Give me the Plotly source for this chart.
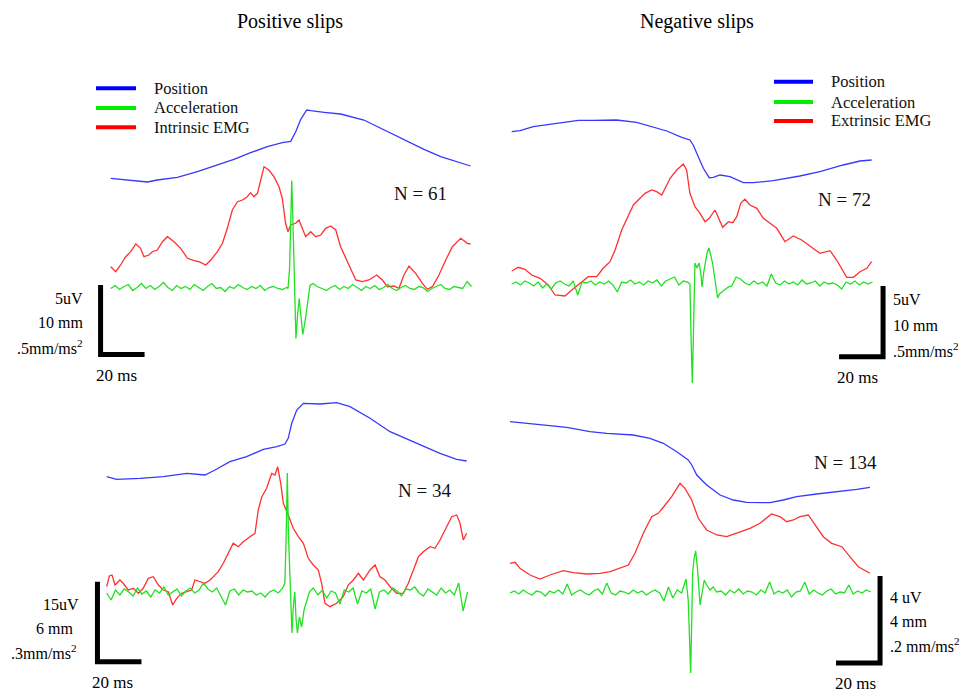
import numpy as np
import plotly.graph_objects as go

W, H = 963, 692
DT_ACC = 2.0          # ms between accelerometer samples away from the slip transient
BAR_MS = 20.0         # horizontal scale bar, ms

# ---------------- Positive slips, intrinsic EMG (N = 61) ----------------
p1_pos_t = [0, 9.1, 16.7, 21.2, 30.3, 39.4, 48.5, 56.0, 63.6, 71.2, 78.0, 81.8, 84.1, 86.4, 89.1,
            90.9, 97.0, 104.5, 115.1, 124.2, 134.9, 142.4, 150.0, 157.6, 163.6]
p1_pos = [0, -2.4, -3.7, -1.7, 1.0, 6.6, 13.3, 19.0, 25.6, 31.6, 35.6, 37.0, 46.6, 59.0, 68.3,
          67.6, 66.0, 64.3, 58.3, 48.3, 36.6, 29.0, 21.6, 16.6, 12.3]
p1_emg_t = [0, 2.3, 4.5, 6.8, 9.1, 11.4, 13.6, 15.1, 17.4, 18.9, 21.2, 23.5, 25.8, 28.8, 31.8,
            34.9, 37.9, 40.1, 43.2, 45.5, 48.5, 50.8, 53.0, 55.3, 57.6, 59.9, 62.1, 63.6, 65.1,
            66.7, 68.2, 69.7, 71.9, 74.2, 76.5, 78.0, 79.5, 80.6, 81.8, 84.1, 85.6, 87.1, 88.6,
            90.9, 93.2, 95.5, 97.7, 100.0, 102.3, 104.5, 106.8, 109.1, 111.4, 114.4, 117.4,
            120.9, 123.5, 125.8, 128.8, 131.0, 133.3, 135.6, 138.6, 141.7, 143.9, 146.2, 149.2,
            152.3, 155.3, 159.1, 162.1, 163.6]
p1_emg = [0, -5, 1.7, 10, 15, 22.7, 18.4, 10, 11.7, 15, 16.7, 25, 30, 25, 18.4, 8.4, 6, 5, 1.7,
          6.7, 15, 23.4, 38.4, 56.7, 65, 66.7, 70, 74, 70, 73.4, 86.7, 100, 96.7, 90, 80, 68.4,
          43.4, 35, 41.7, 43.4, 46.7, 38.4, 30, 35, 30, 31.7, 38.4, 40.7, 36.7, 20, 8.4, -3.3,
          -13.3, -15, -13.3, -8.3, -13.3, -20, -19.3, -21.6, -8.3, 0.7, -6.6, -16.6, -22.6, -20,
          -8.3, 6.7, 20, 28.4, 23.4, 22.7]
p1_acc_pre = [0, 3, -1, 2, 4, -2, 1, 5, 0, 3, -1, 2, 6, 1, -2, 3, 0, 2, -1, 4, 1, -2, 2, 5, 0,
              1, -3, 2, 0, 4, 1, -1, 2, 0, 3, -2, 1, 2, 0, -1, 1]
p1_acc_spk_t = [80.6, 81.3, 81.8, 82.3, 82.8, 83.3, 84.2, 85.0, 85.7, 86.5, 87.3, 88.2, 89.1,
                90.6, 92.0, 93.8]
p1_acc_spk = [0, 20, 80, 108, 70, 15, -50, -25, -10, -28, -46, -35, -20, 3, 5, 2]
p1_acc_post_t0 = 96.0
p1_acc_post = [0, -2, 1, 3, -1, 2, 0, 4, 1, -2, 2, 0, 3, -1, 1, 4, 0, -2, 1, 3, 0, -1, 2, 1,
               -3, 0, 2, 4, 0, -1, 2, 1, 0, 7, 2]

# ---------------- Negative slips, extrinsic EMG (N = 72) ----------------
p2_pos_t = [0, 3.8, 9.8, 18.9, 25.0, 30.3, 37.1, 47.7, 56.8, 64.4, 70.5, 77.3, 81.0, 82.5, 84.8,
            87.1, 89.8, 91.6, 94.7, 99.2, 105.3, 109.8, 118.9, 131.0, 140.1, 150.7, 158.3, 163.6]
p2_pos = [0, 1, 5, 7.7, 9.4, 11.4, 11.4, 11.7, 9.4, 5, 0.7, -5.6, -8.3, -13.3, -25, -36.6, -46,
          -45.6, -43.3, -45, -51, -51, -49, -44.3, -40, -33.3, -29.3, -28.3]
p2_emg_t = [0, 3.0, 6.0, 9.1, 12.9, 16.6, 19.7, 24.2, 27.3, 31.0, 34.8, 38.6, 41.6, 44.7, 47.0,
            50.0, 53.0, 55.3, 58.3, 60.6, 63.6, 65.9, 68.2, 69.7, 72.0, 75.0, 78.0, 79.5, 81.0,
            83.3, 85.6, 87.9, 89.8, 92.4, 93.9, 95.9, 98.5, 100.5, 102.3, 104.1, 106.0, 108.3,
            111.4, 114.4, 117.4, 120.5, 124.2, 128.0, 131.8, 135.6, 140.1, 144.7, 147.7, 152.3,
            155.3, 158.3, 161.4, 163.6]
p2_emg = [0, 3.7, 1.7, -4, -7.3, -14, -24, -25, -19, -12.3, -5.7, -5.7, 2.7, 9.3, 21, 41, 54.3,
          66, 72.7, 77.7, 81, 79.3, 76, 82.7, 92.7, 101, 107, 101, 77.7, 64.3, 57.7, 49.3, 52.7,
          61, 54.3, 43.7, 49.3, 48.3, 54.3, 67.7, 71.7, 66, 62.7, 52.7, 47.7, 42.7, 29.3, 35, 31,
          25, 17.7, 20.3, 11, -6.3, -6.3, -0.7, 2.7, 9.3]
p2_acc_pre = [0, 2, -1, 3, 1, -2, 2, -4, 0, -5, 1, 3, 0, -2, 3, -11, 2, 1, 3, -1, 2, 0, 3, -1,
              -8, 2, 1, 4, 0, 2, -1, 3, 1, 4, -2, 3, 5, 7, -1, 3, 2]
p2_acc_spk_t = [81.0, 81.6, 82.1, 82.6, 83.3, 84.2, 85.2, 86.0, 86.5, 87.3, 88.0, 88.9, 89.7,
                90.5, 91.3, 92.4, 93.6, 94.4, 95.4, 96.9, 98.4]
p2_acc_spk = [0, -60, -99, -50, 21, 16, 21, 10, -3, 12, 20, 32, 36, 28, 21, 4, -14, -10, -8, -5,
              -3]
p2_acc_post_t0 = 100.0
p2_acc_post = [-2, 7, 5, 1, -1, 3, 0, 2, -2, 10, 1, -1, 3, 0, 2, -1, 4, 0, 1, 3, -2, 2, 0, 1,
               -1, -5, 2, 0, 3, -1, 2, 0, 2]

# ---------------- Positive slips, lower row (N = 34) ----------------
p3_pos_t = [0, 4.5, 15.1, 25.7, 36.4, 44.7, 49.2, 56.0, 63.6, 71.2, 77.3, 81.0, 82.5, 84.1, 86.4,
            89.4, 97.0, 104.5, 110.6, 119.7, 128.8, 139.4, 151.5, 159.1, 163.6]
p3_pos = [0, -2.6, -1.6, 0, 3.4, 1.7, 6.7, 15, 20, 27.4, 30, 32.7, 38.4, 53.4, 66.7, 73.4, 72.7,
          74, 70, 58.4, 45, 35, 23.4, 17.4, 15.7]
p3_emg_t = [0, 1.2, 2.4, 3.8, 6.0, 7.5, 9.8, 12.1, 14.4, 16.6, 18.9, 21.2, 23.5, 25.7, 28.0,
            30.0, 31.8, 34.1, 36.4, 38.6, 40.1, 42.4, 44.7, 47.0, 49.2, 50.7, 53.0, 55.3, 57.5,
            59.8, 62.1, 65.1, 67.4, 68.9, 70.5, 72.7, 75.0, 76.5, 77.7, 79.1, 80.3, 82.5, 84.8,
            87.1, 89.4, 91.6, 93.9, 96.2, 97.7, 99.2, 101.5, 104.5, 107.5, 109.8, 112.1, 114.4,
            116.7, 119.7, 122.0, 124.2, 126.5, 128.8, 131.8, 134.8, 137.1, 139.4, 141.7, 143.9,
            147.0, 149.2, 151.5, 153.8, 156.8, 159.1, 160.6, 162.1, 163.6]
p3_emg = [0, 10.7, 11.7, 1.7, 6.7, 3.4, -3.3, -1.6, -6.6, -1.6, 8.4, 10, 1.7, -3.3, -5, -18.3,
          -11.6, -6.6, -5, -3.3, 6.7, 5, 3.4, 6.7, 11.7, 15, 23.4, 33.4, 43.4, 40, 45, 50, 53.4,
          76.7, 90, 98.4, 113.4, 111.7, 120, 103.4, 83.4, 71.7, 58.4, 50, 43.4, 28.4, 21.7, 16.7,
          3.4, -16.6, -20, -16.6, -10, 1.7, 6.7, 13.4, 6.7, 16.7, 21.7, 10, 6.7, 0, -6.6, -6.6,
          3.4, 16.7, 30, 35, 40, 38.4, 46.7, 56.7, 70, 71.7, 63.4, 46.7, 53.4]
p3_acc_pre = [0, -7, 3, -2, 4, 1, -3, 5, -1, 2, -4, 3, 0, 6, -2, 1, 4, -3, 2, 5, 0, 3, 10, 4, 1,
              5, -3, -12, 2, 4, -2, 3, 1, 2, -2, 0, -4, 1, 3, 0, 5]
p3_acc_spk_t = [81.0, 81.6, 82.1, 82.6, 83.0, 83.5, 83.8, 84.2, 84.8, 85.5, 86.1, 86.7, 87.6,
                88.6, 89.7, 90.9, 92.1, 93.9]
p3_acc_spk = [10, 60, 120, 60, 33, 0, -30, -40, -14, 1, -27, -40, -24, -34, -17, -7, 1, 5]
p3_acc_post_t0 = 96.0
p3_acc_post = [-2, 3, -5, 2, 0, -11, 3, 1, 5, -11, 2, 0, 4, -16, 1, 3, -1, 5, 2, -3, 4, 3, 6, 0,
               -3, 4, 1, -2, 5, 0, 3, -2, 10, -18, 1]

# ---------------- Negative slips, lower row (N = 134) ----------------
p4_pos_t = [0, 10.6, 25.8, 36.4, 44.0, 56.0, 63.6, 69.7, 75.8, 81.0, 82.6, 84.9, 89.4, 95.5,
            101.5, 107.6, 118.2, 124.2, 130.3, 139.4, 150.0, 157.6, 163.6]
p4_pos = [0, -2.3, -5.6, -10, -11.6, -13.3, -16.6, -21.6, -30, -38.3, -43.3, -53.3, -63.3, -73.3,
          -78.3, -80.6, -81, -78.3, -75, -72.3, -70, -67.6, -65.6]
p4_emg_t = [0, 2.3, 4.5, 9.1, 13.6, 18.2, 24.2, 28.8, 34.9, 40.9, 45.5, 50.0, 53.8, 56.8, 60.6,
            64.4, 67.4, 70.5, 73.5, 77.3, 79.5, 82.6, 85.6, 89.4, 94.0, 98.5, 103.0, 109.1,
            113.6, 118.9, 122.7, 125.8, 128.8, 131.8, 135.6, 138.6, 142.4, 146.2, 150.8, 154.5,
            158.3, 163.6]
p4_emg = [0, 1, -5, -11.7, -15.7, -11.7, -7.4, -9.4, -10.7, -10, -8.4, -5, -1.7, 10, 30, 46.6,
          50, 58.3, 66.6, 80, 75, 63.3, 45, 33.3, 28.3, 26.6, 30, 35, 40, 49.3, 46.6, 41.6, 43.3,
          46.6, 48.3, 38.3, 26.6, 20, 16.6, 6.6, -3.4, -10]
p4_acc_pre = [0, 2, -1, 3, 0, -2, 2, 1, -3, 2, 0, 3, -1, 9, -2, 1, 3, 0, -2, 2, 4, -1, 10, 0,
              -2, 2, 1, -1, 3, 0, 2, -2, 1, 3, 0, -8, 6, -5, 3, 0, 14]
p4_acc_spk_t = [81.0, 81.6, 82.1, 82.6, 83.0, 83.7, 84.4, 85.2, 86.4, 87.3, 88.3, 89.4, 90.9,
                92.4, 93.9]
p4_acc_spk = [-7, -45, -80, -30, 20, 35, 42, 25, -12, 0, 13, 8, 3, 6, 1]
p4_acc_post_t0 = 96.0
p4_acc_post = [2, -2, 3, 0, 4, -1, 2, 1, -2, 3, 0, 11, -1, 2, 0, 3, -4, 1, 2, 11, -1, 3, 0, -2,
               2, 4, -1, 1, 0, 8, -1, 2, 0, 3, 1]

# Text
titles = ["Positive slips", "Negative slips"]
legend_left = ["Position", "Acceleration", "Intrinsic EMG"]
legend_right = ["Position", "Acceleration", "Extrinsic EMG"]
n_labels = ["N = 61", "N = 72", "N = 34", "N = 134"]
bar_labels = [["5uV", "10 mm", ".5mm/ms<sup>2</sup>"],
              ["5uV", "10 mm", ".5mm/ms<sup>2</sup>"],
              ["15uV", "6 mm", ".3mm/ms<sup>2</sup>"],
              ["4 uV", "4 mm", ".2 mm/ms<sup>2</sup>"]]
time_label = "20 ms"


def acc_series(pre, spk_t, spk, post_t0, post):
    t = list(np.arange(len(pre)) * DT_ACC) + list(spk_t) + list(post_t0 + np.arange(len(post)) * DT_ACC)
    return t, list(pre) + list(spk) + list(post)


# ---- layout geometry (pixels) ----
PX_PER_MS = 2.2
FONT = "Liberation Serif"
C_POS, C_ACC, C_EMG = "#3838ff", "#22e022", "#ff3030"
L_POS, L_ACC, L_EMG = "#0000ff", "#00ee00", "#ff0000"

panels = [
    dict(pos_t=p1_pos_t, pos=p1_pos, emg_t=p1_emg_t, emg=p1_emg,
         acc=acc_series(p1_acc_pre, p1_acc_spk_t, p1_acc_spk, p1_acc_post_t0, p1_acc_post),
         x0=110.7, base=288.5, box=(30, 485, 60, 388), pos_off=110.2, emg_off=21.8,
         bar_t=-4.6, bar_top=3.5, bar_len=69.5, side="left",
         labels=[(85, 298), (85, 322), (85, 347)], tl=(116, 375), n=(391.7, 193)),
    dict(pos_t=p2_pos_t, pos=p2_pos, emg_t=p2_emg_t, emg=p2_emg,
         acc=acc_series(p2_acc_pre, p2_acc_spk_t, p2_acc_spk, p2_acc_post_t0, p2_acc_post),
         x0=511.7, base=284.0, box=(490, 962, 60, 390), pos_off=152.3, emg_off=13.0,
         bar_t=168.8, bar_top=-2.0, bar_len=70.7, side="right",
         labels=[(891, 300), (891, 325), (891, 350)], tl=(857, 377), n=(816, 200)),
    dict(pos_t=p3_pos_t, pos=p3_pos, emg_t=p3_emg_t, emg=p3_emg,
         acc=acc_series(p3_acc_pre, p3_acc_spk_t, p3_acc_spk, p3_acc_post_t0, p3_acc_post),
         x0=106.7, base=593.0, box=(30, 485, 390, 692), pos_off=116.3, emg_off=6.3,
         bar_t=-4.2, bar_top=11.3, bar_len=80.0, side="left",
         labels=[(81, 604), (75, 628), (79, 652)], tl=(112, 682), n=(396, 490)),
    dict(pos_t=p4_pos_t, pos=p4_pos, emg_t=p4_emg_t, emg=p4_emg,
         acc=acc_series(p4_acc_pre, p4_acc_spk_t, p4_acc_spk, p4_acc_post_t0, p4_acc_post),
         x0=510.0, base=593.0, box=(490, 962, 390, 692), pos_off=171.3, emg_off=29.7,
         bar_t=168.2, bar_top=17.0, bar_len=87.0, side="right",
         labels=[(888, 597), (888, 621), (888, 645)], tl=(855, 683), n=(811.7, 462)),
]


def fx(px):
    return px / W


def fy(py):
    return 1 - py / H


fig = go.Figure()
annotations = []
shapes = []

for i, p in enumerate(panels):
    k = "" if i == 0 else str(i + 1)
    xa, ya = "x" + k, "y" + k
    xl, xr, yt, yb = p["box"]
    fig.update_layout(**{
        "xaxis" + k: dict(domain=[fx(xl), fx(xr)],
                          range=[(xl - p["x0"]) / PX_PER_MS, (xr - p["x0"]) / PX_PER_MS],
                          visible=False, anchor=ya, fixedrange=True),
        "yaxis" + k: dict(domain=[fy(yb), fy(yt)],
                          range=[p["base"] - yb, p["base"] - yt],
                          visible=False, anchor=xa, fixedrange=True),
    })
    acc_t, acc_v = p["acc"]
    fig.add_trace(go.Scatter(x=p["pos_t"], y=[v + p["pos_off"] for v in p["pos"]], mode="lines",
                             line=dict(color=C_POS, width=1.3), xaxis=xa, yaxis=ya,
                             showlegend=False, hoverinfo="skip"))
    fig.add_trace(go.Scatter(x=p["emg_t"], y=[v + p["emg_off"] for v in p["emg"]], mode="lines",
                             line=dict(color=C_EMG, width=1.3), xaxis=xa, yaxis=ya,
                             showlegend=False, hoverinfo="skip"))
    fig.add_trace(go.Scatter(x=acc_t, y=acc_v, mode="lines",
                             line=dict(color=C_ACC, width=1.3), xaxis=xa, yaxis=ya,
                             showlegend=False, hoverinfo="skip"))
    # L-shaped scale bar: vertical = amplitude scale, horizontal = 20 ms
    top = p["bar_top"]
    bot = top - p["bar_len"]
    if p["side"] == "left":
        bx = [p["bar_t"], p["bar_t"], p["bar_t"] + BAR_MS]
        by = [top, bot, bot]
    else:
        bx = [p["bar_t"] - BAR_MS, p["bar_t"], p["bar_t"]]
        by = [bot, bot, top]
    fig.add_trace(go.Scatter(x=bx, y=by, mode="lines", line=dict(color="black", width=5),
                             xaxis=xa, yaxis=ya, showlegend=False, hoverinfo="skip"))

    anchor = "right" if p["side"] == "left" else "left"
    for txt, (lx, ly) in zip(bar_labels[i], p["labels"]):
        annotations.append(dict(text=txt, x=fx(lx), y=fy(ly), xref="paper", yref="paper",
                                xanchor=anchor, yanchor="middle", showarrow=False,
                                font=dict(family=FONT, size=16, color="black")))
    annotations.append(dict(text=time_label, x=fx(p["tl"][0]), y=fy(p["tl"][1]), xref="paper",
                            yref="paper", xanchor="center", yanchor="middle", showarrow=False,
                            font=dict(family=FONT, size=17, color="black")))
    annotations.append(dict(text=n_labels[i], x=fx(p["n"][0]), y=fy(p["n"][1]), xref="paper",
                            yref="paper", xanchor="left", yanchor="middle", showarrow=False,
                            font=dict(family=FONT, size=19, color="#111111")))

# column titles
for txt, cx in zip(titles, [289.5, 697]):
    annotations.append(dict(text=txt, x=fx(cx), y=fy(22), xref="paper", yref="paper",
                            xanchor="center", yanchor="middle", showarrow=False,
                            font=dict(family=FONT, size=20, color="black")))

# legends
for names, (sx0, sx1, tx, ys) in [(legend_left, (96, 136, 152, [88.3, 108, 127.3])),
                                  (legend_right, (774, 813, 829, [81.7, 102, 121]))]:
    for name, col, yy in zip(names, [L_POS, L_ACC, L_EMG], ys):
        shapes.append(dict(type="line", xref="paper", yref="paper", x0=fx(sx0), x1=fx(sx1),
                           y0=fy(yy), y1=fy(yy), line=dict(color=col, width=4)))
        annotations.append(dict(text=name, x=fx(tx), y=fy(yy), xref="paper", yref="paper",
                                xanchor="left", yanchor="middle", showarrow=False,
                                font=dict(family=FONT, size=16.5, color="#111111")))

fig.update_layout(width=W, height=H, margin=dict(l=0, r=0, t=0, b=0), autosize=False,
                  paper_bgcolor="white", plot_bgcolor="white", showlegend=False,
                  annotations=annotations, shapes=shapes)

fig.write_html("out.html", config={"displayModeBar": False})
